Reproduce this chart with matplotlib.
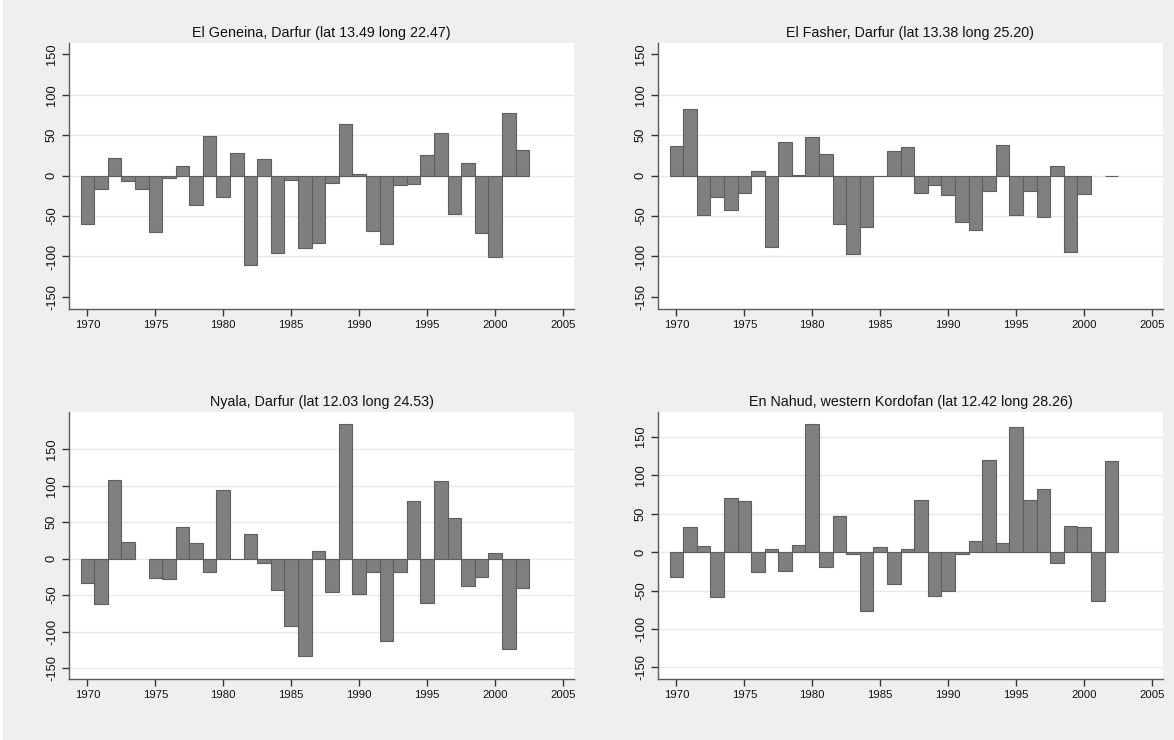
import numpy as np
import matplotlib
matplotlib.use("Agg")
import matplotlib.pyplot as plt
from matplotlib.patches import Rectangle

plt.rcParams['font.family'] = ['Liberation Sans', 'DejaVu Sans']

years = list(range(1970, 2003))

geneina = [-60, -16, 22, -7, -16, -70, -3, 12, -36, 49, -27, 28, -110, 20, -96, -6,
           -89, -83, -9, 64, 2, -68, -85, -12, -10, 25, 53, -47, 16, -71, -101, 78, 32]
fasher = [37, 82, -49, -26, -43, -21, 6, -88, 41, 1, 48, 27, -60, -97, -63, -1,
          30, 35, -21, -12, -24, -57, -67, -19, 38, -49, -19, -51, 12, -95, -23, np.nan, -1]
nyala = [-33, -62, 108, 23, np.nan, -27, -28, 44, 21, -19, 94, -1, 34, -6, -43, -93,
         -134, 10, -46, 184, -49, -19, -113, -18, 79, -61, 107, 56, -37, -25, 8, -124, -40]
nahud = [-33, 33, 8, -58, 70, 66, -26, 4, -24, 9, 166, -20, 47, -2, -77, 6,
         -42, 4, 68, -57, -50, -3, 14, 120, 12, 162, 67, 82, -14, 34, 33, -64, 118]

titles = ["El Geneina, Darfur (lat 13.49 long 22.47)",
          "El Fasher, Darfur (lat 13.38 long 25.20)",
          "Nyala, Darfur (lat 12.03 long 24.53)",
          "En Nahud, western Kordofan (lat 12.42 long 28.26)"]

yticks = [-150, -100, -50, 0, 50, 100, 150]
xticks = [1970, 1975, 1980, 1985, 1990, 1995, 2000, 2005]

W, H = 1174, 740
fig = plt.figure(figsize=(W / 100, H / 100), dpi=100)
fig.patch.set_facecolor('white')
fig.patches.append(Rectangle((3 / W, -0.01), 1.01 - 3 / W, 1.02, transform=fig.transFigure,
                             facecolor='#efefef', edgecolor='none', zorder=-10))

panels = [
    (geneina, titles[0], (69, 43, 574, 309), (-165, 164), False),
    (fasher, titles[1], (658, 43, 1163, 309), (-165, 164), False),
    (nyala, titles[2], (69, 412, 574, 679), (-165, 201), True),
    (nahud, titles[3], (658, 412, 1163, 679), (-165, 182), True),
]

for vals, title, (x0, y0, x1, y1), ylim, edge_grid in panels:
    ax = fig.add_axes([x0 / W, (H - y1) / H, (x1 - x0) / W, (y1 - y0) / H])
    ax.set_facecolor('white')
    ax.set_xlim(1968.65, 2005.8)
    ax.set_ylim(*ylim)
    grid_vals = yticks if edge_grid else yticks[1:-1]
    for g in grid_vals:
        ax.axhline(g, color='#e8e8e8', lw=1.0, zorder=0)
    v = np.array(vals, dtype=float)
    ax.bar(years, v, width=1.0, color='#7f7f7f', edgecolor='#5e5e5e',
           linewidth=0.8, zorder=2)
    for s in ['top', 'right']:
        ax.spines[s].set_visible(False)
    for s in ['left', 'bottom']:
        ax.spines[s].set_color('#5a5a5a')
        ax.spines[s].set_linewidth(1.0)
    ax.set_yticks(yticks)
    ax.set_yticklabels([str(t) for t in yticks], rotation=90, va='center')
    ax.set_xticks(xticks)
    ax.set_xticklabels([str(t) for t in xticks])
    ax.tick_params(axis='x', labelsize=8.2)
    ax.tick_params(axis='y', labelsize=9.3)
    ax.tick_params(axis='both', direction='out', length=5, width=1.0,
                   color='#333333', labelcolor='#111111', pad=3)
    ax.set_title(title, fontsize=10.3, color='#111111', pad=4)

fig.savefig('out.png', dpi=100)
